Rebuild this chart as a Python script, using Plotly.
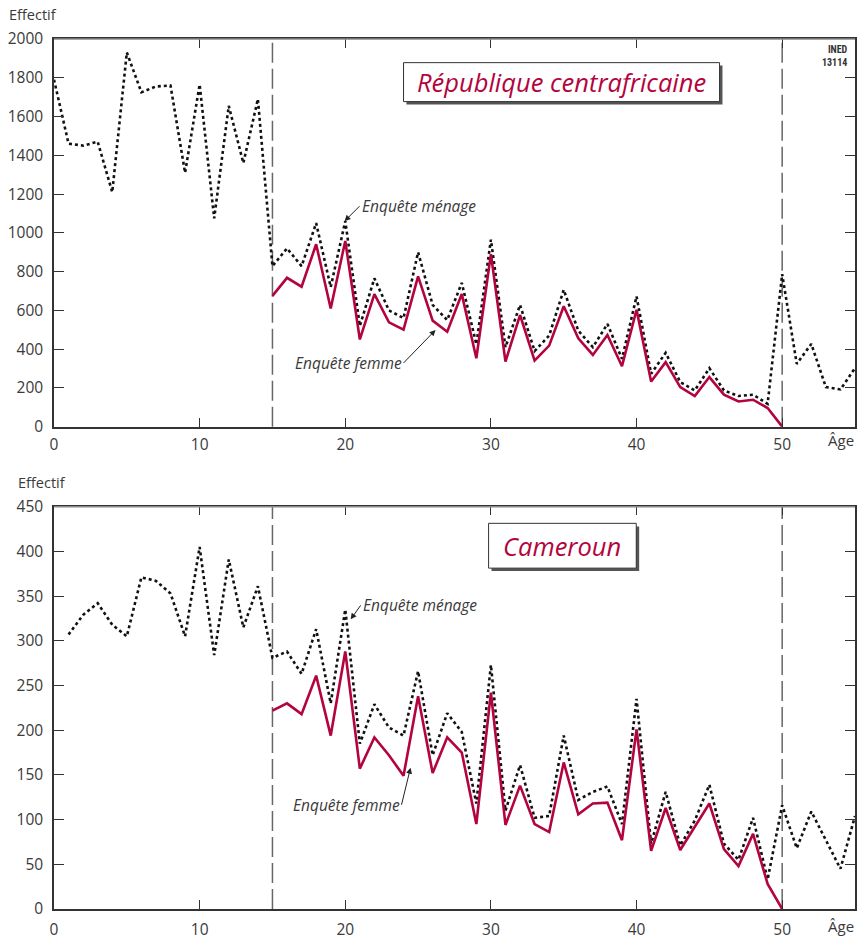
import plotly.graph_objects as go

# ---------------- data ----------------
rca_menage_ages = list(range(0, 56))
rca_menage = [1790, 1460, 1450, 1470, 1210, 1930, 1725, 1755, 1760, 1310,
              1765, 1075, 1655, 1360, 1690, 828, 920, 828, 1050, 720,
              1060, 520, 765, 600, 560, 900, 628, 550, 742, 425,
              965, 410, 628, 390, 470, 706, 495, 410, 530, 350,
              672, 273, 381, 230, 187, 302, 187, 158, 165, 118,
              787, 324, 427, 204, 192, 302]
rca_femme_ages = list(range(15, 51))
rca_femme = [675, 768, 722, 941, 610, 958, 450, 684, 538, 501,
             775, 547, 490, 684, 353, 890, 336, 576, 341, 418,
             621, 456, 370, 473, 312, 603, 233, 333, 204, 158,
             256, 165, 130, 139, 96, 0]

cmr_menage_ages = list(range(1, 56))
cmr_menage = [307, 329, 342, 318, 305, 371, 367, 353, 305,
              405, 284, 391, 315, 361, 281, 288, 263, 313, 230,
              335, 185, 229, 203, 194, 266, 172, 219, 198, 118,
              273, 110, 161, 102, 104, 194, 122, 131, 137, 95,
              235, 73, 131, 71, 99, 139, 73, 55, 102, 33,
              116, 68, 109, 77, 45, 104]
cmr_femme_ages = list(range(15, 51))
cmr_femme = [222, 230, 218, 261, 194, 288, 157, 192, 172, 149,
             238, 152, 192, 175, 95, 242, 94, 138, 95, 86,
             164, 106, 118, 119, 77, 201, 65, 113, 66, 92,
             118, 67, 48, 84, 28, 0]

x_ticks = [0, 10, 20, 30, 40, 50]
rca_yticks = list(range(0, 2001, 200))
cmr_yticks = list(range(0, 451, 50))

RED = "#B3043E"
TXT = "#3a3a3a"
AX = "#333333"
FONT = "Open Sans"

fig = go.Figure()
fig.add_trace(go.Scatter(x=rca_menage_ages, y=rca_menage, mode="lines",
                         line=dict(color="#111111", width=2.6, dash="dot"),
                         xaxis="x", yaxis="y", hoverinfo="skip"))
fig.add_trace(go.Scatter(x=rca_femme_ages, y=rca_femme, mode="lines",
                         line=dict(color=RED, width=2.6),
                         xaxis="x", yaxis="y", hoverinfo="skip"))
fig.add_trace(go.Scatter(x=cmr_menage_ages, y=cmr_menage, mode="lines",
                         line=dict(color="#111111", width=2.6, dash="dot"),
                         xaxis="x2", yaxis="y2", hoverinfo="skip"))
fig.add_trace(go.Scatter(x=cmr_femme_ages, y=cmr_femme, mode="lines",
                         line=dict(color=RED, width=2.6),
                         xaxis="x2", yaxis="y2", hoverinfo="skip"))

xcommon = dict(range=[0, 55], tickvals=x_ticks, ticks="inside", ticklen=9,
               tickwidth=1, tickcolor=AX, showline=True, linecolor=AX,
               linewidth=1.5, mirror="ticks", showgrid=False, zeroline=False,
               tickfont=dict(family=FONT, size=15.5, color=TXT))
ycommon = dict(ticks="inside", ticklen=10, tickwidth=1, tickcolor=AX,
               showline=True, linecolor=AX, linewidth=1.5, mirror="ticks",
               showgrid=False, zeroline=False, ticklabelstandoff=6,
               tickfont=dict(family=FONT, size=15.5, color=TXT))

fig.update_layout(
    width=858, height=941,
    margin=dict(l=54, r=1, t=39, b=29),
    paper_bgcolor="white", plot_bgcolor="white",
    showlegend=False,
    xaxis=dict(domain=[0, 1], anchor="y", **xcommon),
    yaxis=dict(domain=[0.5544, 1], anchor="x", range=[0, 2000],
               tickvals=rca_yticks, **ycommon),
    xaxis2=dict(domain=[0, 1], anchor="y2", **xcommon),
    yaxis2=dict(domain=[0, 0.4624], anchor="x2", range=[0, 450],
                tickvals=cmr_yticks, **ycommon),
)
fig.update_xaxes(ticklabelstandoff=3)
fig.update_layout(xaxis2=dict(ticklabelstandoff=6))

shapes = []
for xr, yr in (("x", "y"), ("x2", "y2")):
    for xv in (15, 50):
        shapes.append(dict(type="line", xref=xr, yref=yr + " domain",
                           x0=xv, x1=xv, y0=0, y1=1, layer="below",
                           line=dict(color="#666666", width=1.5, dash="20px,6px")))
    # grey top frame line
    shapes.append(dict(type="line", xref=xr + " domain", yref=yr + " domain",
                       x0=0, x1=1, y0=1, y1=1, layer="above",
                       line=dict(color="#8a8a8a", width=1.5)))

# title boxes with shadow
shapes += [
    dict(type="rect", xref="x", yref="y", x0=24.2, x1=45.9, y0=1662, y1=1863,
         fillcolor="#555555", line=dict(width=0), layer="above"),
    dict(type="rect", xref="x", yref="y", x0=24.0, x1=45.7, y0=1677, y1=1878,
         fillcolor="white", line=dict(color="#333333", width=1), layer="above"),
    dict(type="rect", xref="x2", yref="y2", x0=30.04, x1=40.18, y0=378, y1=428,
         fillcolor="#555555", line=dict(width=0), layer="above"),
    dict(type="rect", xref="x2", yref="y2", x0=29.84, x1=39.98, y0=381.3, y1=431.4,
         fillcolor="white", line=dict(color="#333333", width=1), layer="above"),
]
fig.update_layout(shapes=shapes)

ann = []
lab = dict(family=FONT, size=15, color=TXT)
ann.append(dict(text="Effectif", xref="paper", yref="paper", x=(7-54)/803, y=(912-14)/873,
                xanchor="left", yanchor="middle", showarrow=False,
                font=dict(family=FONT, size=14.5, color=TXT)))
ann.append(dict(text="Effectif", xref="paper", yref="paper", x=(16-54)/803, y=(912-484)/873,
                xanchor="left", yanchor="middle", showarrow=False,
                font=dict(family=FONT, size=14.5, color=TXT)))
for yy in (441, 929):
    ann.append(dict(text="Âge", xref="paper", yref="paper", x=1, y=(912-yy)/873,
                    xanchor="right", yanchor="middle", showarrow=False, font=lab,
                    bgcolor="white", borderpad=0))
ann.append(dict(text="<b>INED<br>13114</b>", xref="paper", yref="paper",
                x=(852-54)/803, y=(912-56)/873, xanchor="right", yanchor="middle",
                align="right", showarrow=False,
                font=dict(family="Liberation Sans Narrow, Roboto Condensed, Roboto", size=10, color="#333")))
ann.append(dict(text="<i>République centrafricaine</i>", xref="x", yref="y",
                x=34.85, y=1777, showarrow=False,
                font=dict(family=FONT, size=25.5, color=RED)))
ann.append(dict(text="<i>Cameroun</i>", xref="x2", yref="y2",
                x=34.91, y=406, showarrow=False,
                font=dict(family=FONT, size=25.5, color=RED)))

it = dict(family=FONT, size=15.5, color=TXT)
arrow = dict(showarrow=True, arrowhead=2, arrowsize=1.2, arrowwidth=1,
             arrowcolor="#222", axref="pixel", ayref="pixel")
ann.append(dict(text="<i>Enquête ménage</i>", xref="x", yref="y", x=19.95, y=1060,
                ax=15, ay=-15, xanchor="left", yanchor="middle", font=it, **arrow))
ann.append(dict(text="<i>Enquête femme</i>", xref="x", yref="y", x=26.2, y=499,
                ax=-32, ay=33, xanchor="right", yanchor="middle", font=it, **arrow))
ann.append(dict(text="<i>Enquête ménage</i>", xref="x2", yref="y2", x=20.37, y=324,
                ax=10, ay=-14, xanchor="left", yanchor="middle", font=it, **arrow))
ann.append(dict(text="<i>Enquête femme</i>", xref="x2", yref="y2", x=24.48, y=158,
                ax=-9, ay=37, xanchor="right", yanchor="middle", font=it, **arrow))
fig.update_layout(annotations=ann)

fig.write_html("out.html", config={"displayModeBar": False},
               post_script="document.body.style.margin='0';")
